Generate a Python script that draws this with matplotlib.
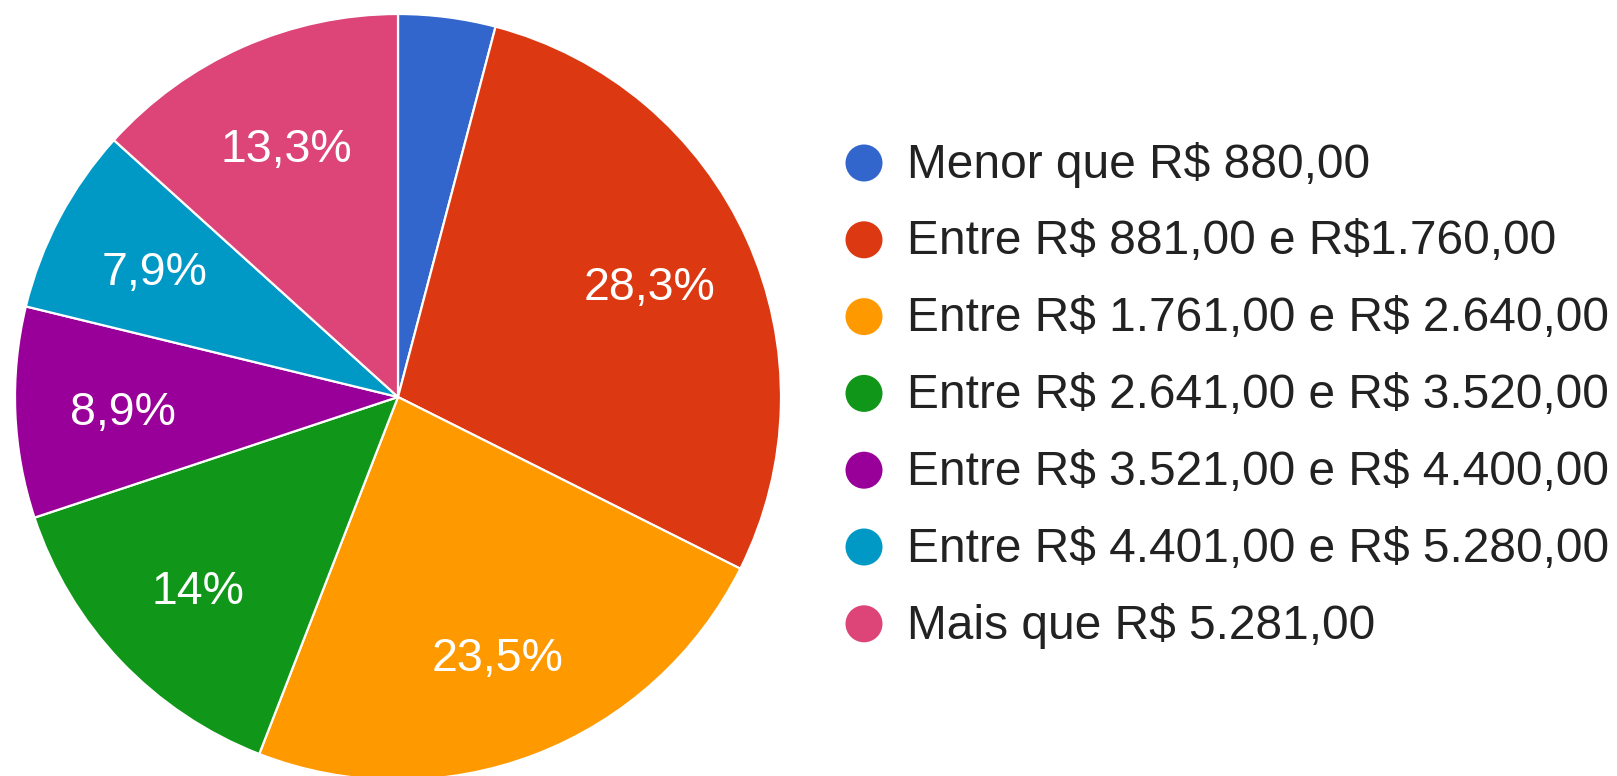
import matplotlib
matplotlib.use("Agg")
import matplotlib.pyplot as plt
from matplotlib.patches import Circle

categories = [
    "Menor que R$ 880,00",
    "Entre R$ 881,00 e R$1.760,00",
    "Entre R$ 1.761,00 e R$ 2.640,00",
    "Entre R$ 2.641,00 e R$ 3.520,00",
    "Entre R$ 3.521,00 e R$ 4.400,00",
    "Entre R$ 4.401,00 e R$ 5.280,00",
    "Mais que R$ 5.281,00",
]
values = [4.1, 28.3, 23.5, 14.0, 8.9, 7.9, 13.3]
colors = ["#3366cc", "#dc3912", "#ff9900", "#109618", "#990099", "#0099c6", "#dd4477"]

plt.rcParams['font.family'] = ['Liberation Sans', 'DejaVu Sans']

W, H = 1617, 776
fig = plt.figure(figsize=(W / 100, H / 100), dpi=100)

cx, cy, r = 398, 397, 383
ax = fig.add_axes([(cx - r) / W, (H - cy - r) / H, 2 * r / W, 2 * r / H])


def fmt(p):
    if p < 5:
        return ""
    s = f"{p:.1f}".replace(".", ",")
    if s.endswith(",0"):
        s = s[:-2]
    return s + "%"


wedges, texts, autotexts = ax.pie(
    values, colors=colors, startangle=90, counterclock=False,
    autopct=fmt, pctdistance=0.72, radius=1,
    wedgeprops=dict(edgecolor="white", linewidth=1.6),
    textprops=dict(color="white", fontsize=33.5),
)
for t in autotexts:
    x, y = t.get_position()
    t.set_position((x, y - 0.012))
ax.set_xlim(-1, 1)
ax.set_ylim(-1, 1)
ax.set_aspect("equal")
ax.axis("off")

# legend drawn in pixel coordinates
lax = fig.add_axes([0, 0, 1, 1])
lax.set_xlim(0, W)
lax.set_ylim(H, 0)
lax.axis("off")
row_y0, row_dy = 163, 76.8
for i, (cat, col) in enumerate(zip(categories, colors)):
    y = row_y0 + i * row_dy
    lax.add_patch(Circle((864, y), 18.5, color=col, lw=0))
    lax.text(907, y + 2, cat, fontsize=34.5, color="#222222", va="center",
             ha="left", parse_math=False)

fig.savefig("out.png", dpi=100, facecolor="white")
